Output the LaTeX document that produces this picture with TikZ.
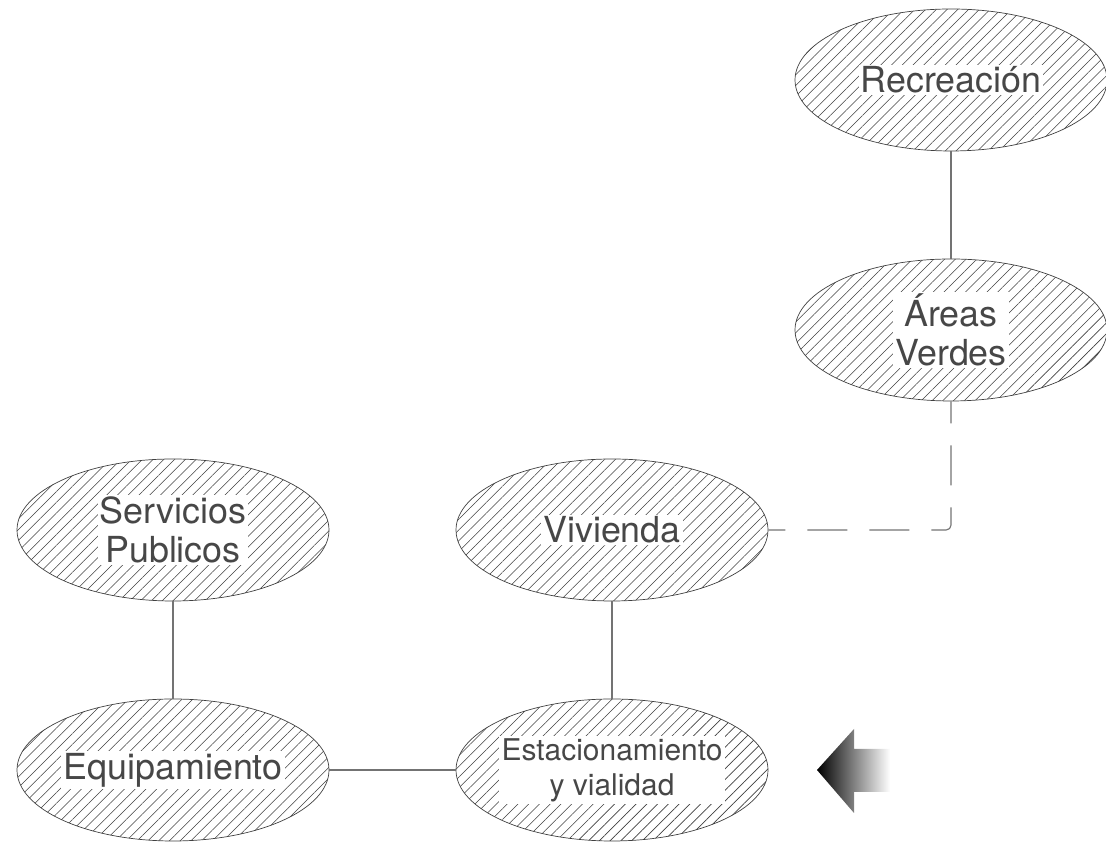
\documentclass[tikz,border=0pt]{standalone}
\usepackage{fontspec}
\setmainfont{TeX Gyre Heros}
\usetikzlibrary{shapes.geometric,patterns.meta}

\tikzset{
  zone/.style={ellipse, draw=black!75, line width=0.5pt, minimum width=7.8cm, minimum height=3.55cm,
    pattern={Lines[angle=45,distance=0.19cm,line width=0.4pt]}, pattern color=black!75},
  tag/.style={fill=white, inner sep=1.5pt, text=black!72, align=center, font=\fontsize{25.5}{28}\selectfont},
  smalltag/.style={tag, font=\fontsize{21.3}{25}\selectfont},
  link/.style={draw=black!55, line width=0.8pt},
}

\begin{document}
\begin{tikzpicture}
  %%%%% START %%%%%
  \useasboundingbox (0, 0) rectangle (27.65, 21.225);

  % zonas
  \node[zone] (rec) at (23.775, 19.225) {};
  \node[zone] (areas) at (23.775, 12.975) {};
  \node[zone] (viv) at (15.3, 7.975) {};
  \node[zone] (serv) at (4.325, 7.975) {};
  \node[zone] (equip) at (4.325, 1.975) {};
  \node[zone] (estac) at (15.3, 1.975) {};

  % textos
  \node[tag] (rec-t) at (rec) {Recreación};
  \node[tag] (areas-t) at (areas) {Áreas\\Verdes};
  \node[tag] (viv-t) at (viv) {Vivienda};
  \node[tag] (serv-t) at (serv) {Servicios\\Publicos};
  \node[tag] (equip-t) at (equip) {Equipamiento};
  \node[smalltag] (estac-t) at (estac) {Estacionamiento\\y vialidad};

  % conexiones
  \draw[link] (rec.south) -- (areas.north);
  \draw[link] (serv.south) -- (equip.north);
  \draw[link] (viv.south) -- (estac.north);
  \draw[link] (equip.east) -- (estac.west);
  \draw[link, dash pattern=on 1cm off 0.55cm, dash phase=0.45cm, rounded corners=0.12cm]
    (areas.south) -- (areas.south |- viv.east) -- (viv.east);

  % flecha
  \shade[left color=black, right color=white]
    (20.425, 1.975) -- (21.35, 3.0) -- (21.35, 2.5) -- (22.25, 2.5)
    -- (22.25, 1.425) -- (21.35, 1.425) -- (21.35, 0.9) -- cycle;

  %%%%% END %%%%%
\end{tikzpicture}
\end{document}
